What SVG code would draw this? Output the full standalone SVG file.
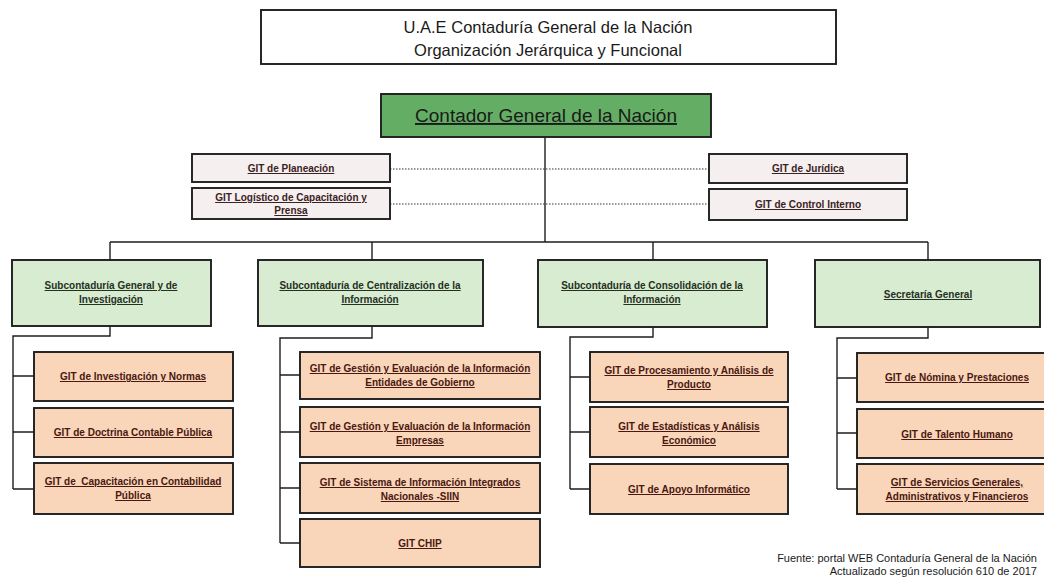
<svg xmlns="http://www.w3.org/2000/svg" width="1044" height="580" viewBox="0 0 1044 580">
<style>
.bx{stroke:#1e1e1e;stroke-width:1.9}
.title{fill:#ffffff}
.green{fill:#63ae64}
.lg{fill:#d7ecd1}
.pe{fill:#f9d5ba}
.wh{fill:#f6eff0}
text{font-family:"Liberation Sans",Arial,sans-serif;text-anchor:middle;text-decoration:underline}
.tt{font-size:16.5px;fill:#1a1a1a;text-decoration:none}
.tg{font-size:19px;fill:#1a1a1a}
.tu{font-size:10px;font-weight:bold;fill:#3a2323}
.ts{font-size:10px;font-weight:bold;fill:#26301f}
.tp{font-size:10px;font-weight:bold;fill:#4a1810}
.fn{font-size:11px;fill:#1a1a1a;text-anchor:end;text-decoration:none}
.ln{stroke:#1e1e1e;stroke-width:1.4;fill:none}
.dt{stroke:#333;stroke-width:1;stroke-dasharray:1.5 1.5;fill:none}
</style>
<rect width="1044" height="580" fill="#ffffff"/>

<g id="connectors">
<path class="ln" d="M545 137V242M110 242H928M110 242V260M372 242V260M653 242V260M928 242V260"/>
<path class="dt" d="M390 169H709M390 204H709"/>
<path class="ln" d="M110 326V336H13V489M13 376H34M13 432H34M13 489H34"/>
<path class="ln" d="M372 326V338H280V543M280 375H300M280 432H300M280 488H300M280 543H300"/>
<path class="ln" d="M653 327V337H570V489M570 377H590M570 432H590M570 489H590"/>
<path class="ln" d="M928 327V338H837V489M837 378H857M837 433H857M837 489H857"/>
</g>

<g id="title">
<rect class="bx title" x="261" y="10" width="575" height="54"/>
<text class="tt" x="548" y="33">U.A.E Contaduría General de la Nación</text>
<text class="tt" x="548" y="56">Organización Jerárquica y Funcional</text>
</g>

<g id="contador">
<rect class="bx green" x="381" y="94" width="330" height="43"/>
<text class="tg" x="546" y="122">Contador General de la Nación</text>
</g>

<g id="planeacion">
<rect class="bx wh" x="192" y="154" width="198" height="28"/>
<text class="tu" x="291" y="172">GIT de Planeación</text>
</g>
<g id="logistico">
<rect class="bx wh" x="192" y="188" width="198" height="31"/>
<text class="tu" x="291" y="201">GIT Logístico de Capacitación y</text>
<text class="tu" x="291" y="214">Prensa</text>
</g>
<g id="juridica">
<rect class="bx wh" x="709" y="154" width="198" height="29"/>
<text class="tu" x="808" y="172">GIT de Jurídica</text>
</g>
<g id="control">
<rect class="bx wh" x="709" y="189" width="198" height="31"/>
<text class="tu" x="808" y="208">GIT de Control Interno</text>
</g>

<g id="sub1">
<rect class="bx lg" x="12" y="260" width="199" height="66"/>
<text class="ts" x="111" y="289">Subcontaduría General y de</text>
<text class="ts" x="111" y="303">Investigación</text>
</g>
<g id="sub2">
<rect class="bx lg" x="258" y="260" width="225" height="66"/>
<text class="ts" x="370" y="289">Subcontaduría de Centralización de la</text>
<text class="ts" x="370" y="303">Información</text>
</g>
<g id="sub3">
<rect class="bx lg" x="538" y="260" width="229" height="67"/>
<text class="ts" x="652" y="289">Subcontaduría de Consolidación de la</text>
<text class="ts" x="652" y="303">Información</text>
</g>
<g id="sub4">
<rect class="bx lg" x="815" y="260" width="225" height="67"/>
<text class="ts" x="928" y="298">Secretaría General</text>
</g>

<g id="c1a">
<rect class="bx pe" x="34" y="352" width="199" height="49"/>
<text class="tp" x="133" y="380">GIT de Investigación y Normas</text>
</g>
<g id="c1b">
<rect class="bx pe" x="34" y="408" width="199" height="49"/>
<text class="tp" x="133" y="436">GIT de Doctrina Contable Pública</text>
</g>
<g id="c1c">
<rect class="bx pe" x="34" y="463" width="199" height="51"/>
<text class="tp" x="133" y="485" xml:space="preserve">GIT de  Capacitación en Contabilidad</text>
<text class="tp" x="133" y="499">Pública</text>
</g>

<g id="c2a">
<rect class="bx pe" x="300" y="352" width="240" height="47"/>
<text class="tp" x="420" y="372">GIT de Gestión y Evaluación de la Información</text>
<text class="tp" x="420" y="386">Entidades de Gobierno</text>
</g>
<g id="c2b">
<rect class="bx pe" x="300" y="407" width="240" height="50"/>
<text class="tp" x="420" y="430">GIT de Gestión y Evaluación de la Información</text>
<text class="tp" x="420" y="444">Empresas</text>
</g>
<g id="c2c">
<rect class="bx pe" x="300" y="463" width="240" height="50"/>
<text class="tp" x="420" y="486">GIT de Sistema de Información Integrados</text>
<text class="tp" x="420" y="500">Nacionales -SIIN</text>
</g>
<g id="c2d">
<rect class="bx pe" x="300" y="519" width="240" height="48"/>
<text class="tp" x="420" y="547">GIT CHIP</text>
</g>

<g id="c3a">
<rect class="bx pe" x="590" y="352" width="198" height="50"/>
<text class="tp" x="689" y="374">GIT de Procesamiento y Análisis de</text>
<text class="tp" x="689" y="388">Producto</text>
</g>
<g id="c3b">
<rect class="bx pe" x="590" y="407" width="198" height="50"/>
<text class="tp" x="689" y="430">GIT de Estadísticas y Análisis</text>
<text class="tp" x="689" y="444">Económico</text>
</g>
<g id="c3c">
<rect class="bx pe" x="590" y="464" width="198" height="50"/>
<text class="tp" x="689" y="493">GIT de Apoyo Informático</text>
</g>

<g id="c4a">
<rect class="bx pe" x="857" y="353" width="200" height="49"/>
<text class="tp" x="957" y="381">GIT de Nómina y Prestaciones</text>
</g>
<g id="c4b">
<rect class="bx pe" x="857" y="409" width="200" height="49"/>
<text class="tp" x="957" y="438">GIT de Talento Humano</text>
</g>
<g id="c4c">
<rect class="bx pe" x="857" y="464" width="200" height="50"/>
<text class="tp" x="957" y="486">GIT de Servicios Generales,</text>
<text class="tp" x="957" y="500">Administrativos y Financieros</text>
</g>

<g id="footnote">
<text class="fn" x="1037" y="562">Fuente: portal WEB Contaduría General de la Nación</text>
<text class="fn" x="1037" y="575">Actualizado según resolución 610 de 2017</text>
</g>
</svg>
